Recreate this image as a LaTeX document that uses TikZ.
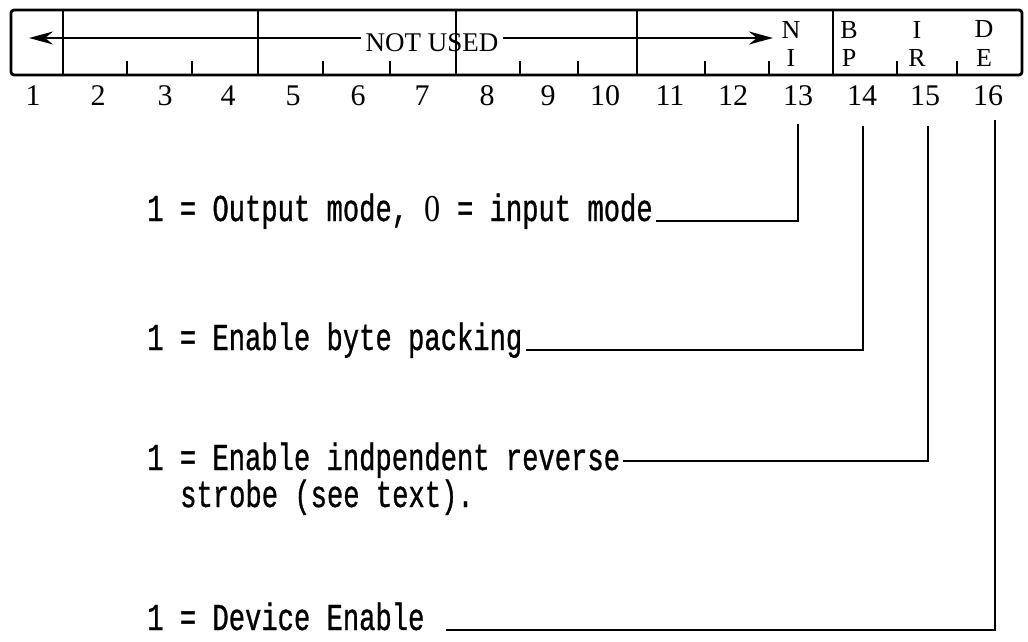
\documentclass[tikz,border=0pt]{standalone}
\usepackage{fontspec}
\setmainfont{Liberation Serif}
\newfontfamily\typewfont[FakeStretch=0.715,FakeBold=0.8]{Liberation Mono}
\newfontfamily\zerofont[FakeStretch=0.85]{Liberation Serif}
\newcommand\plainzero{\makebox[16.3pt]{\zerofont 0}}
\usetikzlibrary{arrows.meta}

\tikzstyle{bitnum}=[font=\fontsize{30}{30}\selectfont,
                inner sep=0pt]
\tikzstyle{flag}=[font=\fontsize{26}{26}\selectfont,
                inner sep=0pt]
\tikzstyle{desc}=[font=\typewfont\fontsize{38}{38}\selectfont,
                inner sep=2pt,
                text height=22pt,
                text depth=6pt,
                anchor=base west]
\tikzstyle{lead}=[line width=2.8pt]

\begin{document}
\begin{tikzpicture}[x=1pt,y=-1pt,line width=2.5pt,>={Stealth[length=24pt,width=13pt]}]
\useasboundingbox (0,0) rectangle (1028,642);

% register word
\draw[line width=2.8pt,rounded corners=3pt] (11,10) rectangle (1022,75);
\foreach \x in {63,258,456,637,833}
  \draw (\x,10) -- (\x,75);
\foreach \x in {127,192,323,390,520,578,705,769,897,957}
  \draw (\x,75) -- (\x,61);

% bit numbers
\foreach \i/\x in {1/33,2/98,3/165,4/228,5/293,6/358,7/422,8/487,
                   9/548,10/605,11/670,12/733,13/798,14/862,15/925,16/988}
  \node[bitnum] (n\i) at (\x,96) {\i};

% unused field
\node[font=\fontsize{27}{27}\selectfont,inner sep=3pt] (unused) at (432,43) {NOT USED};
\coordinate (lt) at (29,38);
\coordinate (rt) at (773,38);
\draw[->,line width=1.8pt] (unused.west |- lt) -- (lt);
\draw[->,line width=1.8pt] (unused.east |- rt) -- (rt);

% flag letters
\node[flag] (ni1) at (791,30) {N};
\node[flag] (ni2) at (791,58) {I};
\node[flag] (bp1) at (849,30) {B};
\node[flag] (bp2) at (849,58) {P};
\node[flag] (ir1) at (917,30) {I};
\node[flag] (ir2) at (917,58) {R};
\node[flag] (de1) at (984,29) {D};
\node[flag] (de2) at (984,58) {E};

% descriptions
\node[desc] (out)  at (144,221) {1 = Output mode, \plainzero{} = input mode};
\node[desc] (pack) at (144,350) {1 = Enable byte packing};
\node[desc] (rev)  at (144,470) {1 = Enable indpendent reverse};
\node[desc] (rev2) at (177,507) {strobe (see text).};
\node[desc] (dev)  at (144,630) {1 = Device Enable};

% leaders
\coordinate (t13) at (798,124);
\coordinate (t14) at (863,126);
\coordinate (t15) at (928,126);
\coordinate (t16) at (995,120);
\draw[lead] (t13) |- (out.base east);
\draw[lead] (t14) |- (pack.base east);
\draw[lead] (t15) |- ([yshift=9pt]rev.base east);
\draw[lead] (t16) |- ([xshift=18pt]dev.base east);

\end{tikzpicture}
\end{document}
